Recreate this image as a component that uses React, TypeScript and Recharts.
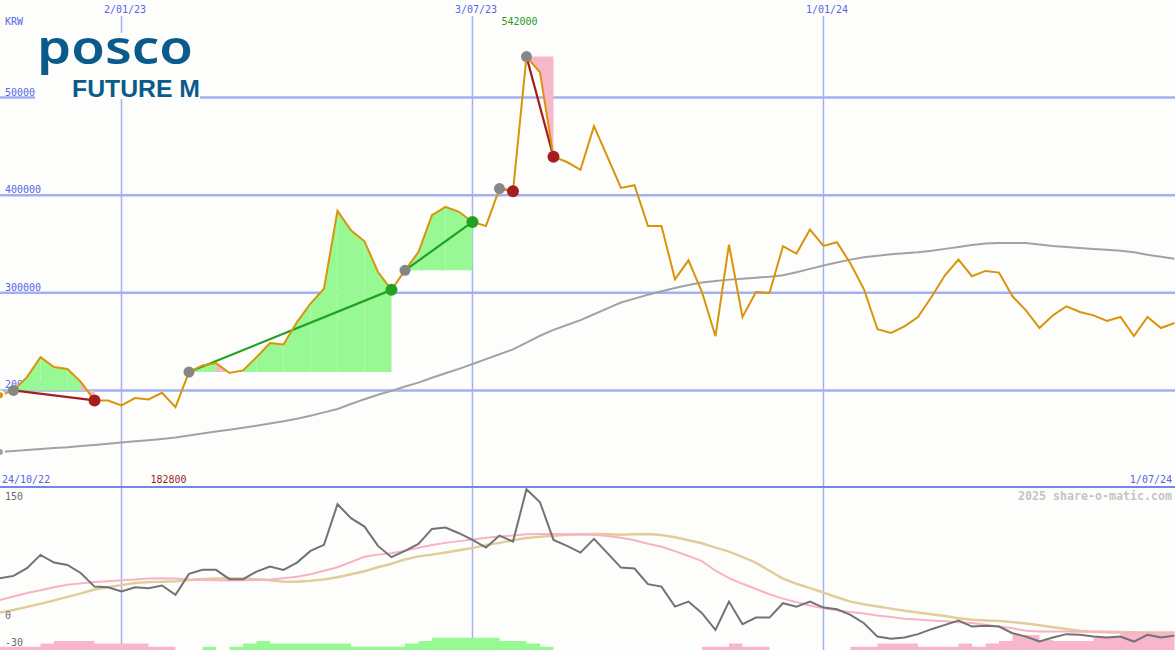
import React from 'react';
import { ComposedChart, Line, Area, XAxis, YAxis, CartesianGrid, ReferenceDot } from 'recharts';

// weekly closes, KRW (index 0 = first plotted week)
const prices = [
  195000, 200000, 213600, 234000, 224000, 222000, 208500, 189700, 189700, 184600,
  192100, 190800, 197600, 182800, 218800, 225600, 228000, 217800, 220500, 234000,
  248500, 247000, 270000, 289000, 304300, 384000, 364000, 352800, 321300, 303000,
  323000, 341800, 379500, 388000, 383000, 372600, 368500, 406800, 404000, 542000,
  525800, 439300, 434000, 426000, 470800, 439300, 407500, 410300, 368500, 368500,
  313800, 333300, 300800, 255400, 349400, 275200, 300800, 299800, 347700, 340200,
  364800, 348000, 351800, 330000, 303600, 262700, 258800, 265600, 275200, 295700,
  318000, 334000, 317000, 322400, 320700, 296400, 282000, 263900, 276900, 286200,
  280300, 276900, 271100, 275200, 255700, 275200, 263900, 269000,
];

// long moving average (grey)
const priceAvg = [
  136800, 137800, 139000, 140000, 141000, 141800, 143000, 144000, 145300, 146500,
  147800, 149000, 150300, 151800, 153800, 155800, 157800, 159700, 161700, 163800,
  166000, 168300, 171000, 174000, 177500, 181000, 186000, 191000, 195500, 199500,
  204000, 208000, 213000, 217500, 222000, 227000, 232000, 237000, 242000, 249000,
  256000, 262000, 267000, 272000, 278000, 284000, 290000, 294000, 298000, 301500,
  305000, 308000, 310500, 312000, 313500, 314500, 315500, 316500, 318000, 321000,
  324500, 328000, 331000, 334000, 336500, 338000, 339500, 340500, 341500, 343000,
  345000, 347000, 349000, 350500, 351000, 351000, 351000, 349500, 348000, 347000,
  346000, 345000, 344000, 343000, 341500, 339000, 337000, 335000,
];

// lower panel
const osc = [
  48.5, 51.1, 59.9, 75.2, 66.4, 63.7, 54.2, 38.8, 38.1, 33.1,
  38.1, 37.0, 40.0, 29.3, 53.4, 58.0, 58.0, 47.3, 47.3, 56.0,
  61.8, 58.0, 66.4, 79.8, 86.7, 133.4, 117.3, 107.7, 85.5, 72.6,
  79.8, 87.8, 105, 106.5, 100.1, 92.4, 83.6, 97.4, 90.5, 150.6,
  135.7, 92.4, 85.5, 77.8, 93.6, 77.2, 60.6, 59.5, 41.6, 38.8,
  15.8, 21.6, 8.3, -10.9, 21.6, -4.4, 3.2, 3.2, 19.7, 15.8,
  21.6, 14.7, 12.8, 6.3, -3.2, -18.6, -21.2, -19.7, -15.8, -10.1,
  -5.2, -0.2, -7.1, -6.3, -7.1, -14.7, -18.6, -24.3, -19.7, -15.8,
  -16.6, -18.6, -19.7, -18.6, -24.3, -16.6, -19.7, -17.5,
];

const oscFast = [
  23.5, 27.5, 31.5, 34.5, 38, 41, 42.5, 44, 45, 46,
  47, 48, 48.5, 48, 47, 46.5, 46, 45.7, 46, 46.3,
  47, 48.5, 50, 53, 57, 61, 67, 73, 75.5, 77,
  80, 83.5, 86.5, 89, 91, 93, 95, 96.2, 97.5, 98.8,
  99.3, 99.2, 99, 98.7, 98.3, 97, 95, 92, 88, 84.5,
  79.5, 74, 68, 57, 48.5, 42, 36, 30, 25, 21,
  17, 14, 11.5, 9.5, 8, 5.5, 3.8, 2, 1, 0,
  -1, -2, -3, -5, -7, -9, -12, -12.9, -12.9, -12.9,
  -13, -13.4, -13.8, -14.3, -14.7, -14.3, -14, -13.5,
];

const oscSlow = [
  9, 12, 15.5, 19, 23, 27, 31, 35.5, 38, 40.5,
  43, 44, 44.3, 45, 46.5, 47.6, 48, 48.5, 48, 47.3,
  46, 44.5, 44.5, 45.5, 47, 49.5, 53, 56.5, 61, 65,
  70, 73.5, 75.5, 78, 80.5, 83, 86.5, 89, 92, 94.5,
  96, 97.2, 98.3, 99, 99.3, 98.8, 98.2, 98.8, 99.3, 98,
  95.5, 92, 88.6, 83.5, 79, 73, 66, 57, 48, 42,
  37, 32, 26.5, 21.5, 18.5, 16, 13.5, 11, 9, 7,
  5, 2.5, 0.7, 0, -0.6, -2, -3.5, -5.5, -8, -10,
  -12, -12.9, -13.1, -13.4, -13.6, -14, -14.3, -14.7,
];

// signed histogram: positive = green, negative = pink
const histogram = [
  -1, -1, -1, -2, -2.7, -2.7, -2.7, -2, -2, -2,
  -2, -1, -1, 0, 0, 1, 0, 1, 2, 2.7,
  2, 2, 2, 2, 2, 2, 1, 1, 1, 1,
  2, 2.7, 3.7, 3.7, 3.7, 3.7, 3.7, 2.7, 2.7, 2,
  1, 0, 0, 0, 0, 0, 0, 0, 0, 0,
  0, 0, -1, -1, -2, -1, -1, 0, 0, 0,
  0, 0, 0, -1, -1, -2, -2, -2, -1, -1,
  -1, -2, -1, -2, -2.7, -4.5, -4.5, -3, -2.7, -2.7,
  -2.7, -3.8, -3.8, -5, -5, -5, -5, -5,
];

const tradeEntries = [1, 14, 30, 37, 39];
const tradeExits = [7, 29, 35, 38, 41];

const dateTicks = [9, 35, 61];
const dateLabels = ['2/01/23', '3/07/23', '1/01/24'];
const startLabel = '24/10/22';
const endLabel = '1/07/24';
const priceTicks = [200000, 300000, 400000, 500000];
const oscTicks = [-30, 0, 150];

const BG = '#fdfefc';
const GRID = '#a3b1f2';
const BLUE = '#5565e6';
const MONO = '"DejaVu Sans Mono", monospace';
const GAIN_FILL = '#98f894';
const LOSS_FILL = '#f8b6ca';
const GAIN_LINE = '#22a022';
const LOSS_LINE = '#a41e1e';
const X_DOMAIN: [number, number] = [0, 87.04];
const PRICE_DOMAIN: [number, number] = [100000, 600000];
const OSC_DOMAIN: [number, number] = [-34, 152];
const MARGIN = { top: 0, right: 0, bottom: 0, left: 0 };

const upperRows: Record<string, any>[] = prices.map((p, i) => ({ i, price: p, avg: priceAvg[i] }));
const fillSegs: { key: string; color: string }[] = [];
const tradeLines: { key: string; color: string }[] = [];

tradeEntries.forEach((a, k) => {
  const b = tradeExits[k];
  const base = prices[a];
  for (let i = a; i < b; i++) {
    const key = 'f' + i;
    upperRows[i][key] = [base, prices[i]];
    upperRows[i + 1][key] = [base, prices[i + 1]];
    fillSegs.push({ key, color: prices[i + 1] >= base ? GAIN_FILL : LOSS_FILL });
  }
  const win = prices[b] > base;
  upperRows[a]['t' + k] = base;
  upperRows[b]['t' + k] = prices[b];
  tradeLines.push({ key: 't' + k, color: win ? GAIN_LINE : LOSS_LINE });
  upperRows[a].entry = base;
  upperRows[b][win ? 'exitWin' : 'exitLoss'] = prices[b];
});

const lowerRows = osc.map((v, i) => ({
  i,
  osc: v,
  fast: oscFast[i],
  slow: oscSlow[i],
  histUp: histogram[i] > 0 ? histogram[i] : 0,
  histDown: histogram[i] < 0 ? -histogram[i] : 0,
}));

const maxVal = Math.max(...prices);
const minVal = Math.min(...prices);
const maxIdx = prices.indexOf(maxVal);
const minIdx = prices.indexOf(minVal);

const marker = (color: string, r: number) => (props: any) => {
  const { cx, cy, index, value } = props;
  if (value == null || cy == null || Number.isNaN(cy)) return <g key={index} />;
  return <circle key={index} cx={cx} cy={cy} r={r} fill={color} />;
};

const DateTick = (props: any) => {
  const { x, payload } = props;
  const label = dateLabels[dateTicks.indexOf(payload.value)];
  return (
    <g>
      <rect x={x - 24} y={0} width={52} height={16} fill={BG} />
      <text x={x + 3.5} y={13} textAnchor="middle" fill={BLUE} fontSize={10} fontFamily={MONO}>{label}</text>
    </g>
  );
};

const PriceTick = (props: any) => (
  <text x={5} y={props.y - 2} fill={BLUE} fontSize={10} fontFamily={MONO}>{props.payload.value}</text>
);

const OscTick = (props: any) => (
  <text x={5} y={Math.max(props.y - 1, 12)} fill="#6a6a6a" fontSize={10} fontFamily={MONO}>{props.payload.value}</text>
);

const layer = (top: number): React.CSSProperties => ({ position: 'absolute', left: 0, top });

const App = () => (
  <div style={{ position: 'fixed', left: 0, top: 0, width: 1175, height: 650, background: BG, overflow: 'hidden' }}>
    {/* price panel: grid and axis labels underneath */}
    <div style={layer(0)}>
      <ComposedChart width={1175} height={488} data={upperRows} margin={MARGIN}>
        <CartesianGrid vertical={false} horizontalValues={priceTicks} stroke={GRID} strokeWidth={2.5} />
        <CartesianGrid horizontal={false} verticalValues={dateTicks} stroke={GRID} strokeWidth={1.5} />
        <XAxis dataKey="i" type="number" domain={X_DOMAIN} ticks={dateTicks} orientation="top" mirror
          axisLine={false} tickLine={false} tick={DateTick} interval={0} allowDataOverflow />
        <YAxis type="number" domain={PRICE_DOMAIN} ticks={priceTicks} mirror
          axisLine={false} tickLine={false} tick={PriceTick} interval={0} allowDataOverflow />
      </ComposedChart>
    </div>

    {/* price panel: series on top */}
    <div style={layer(0)}>
      <ComposedChart width={1175} height={488} data={upperRows} margin={MARGIN}>
        <XAxis dataKey="i" type="number" domain={X_DOMAIN} hide allowDataOverflow />
        <YAxis type="number" domain={PRICE_DOMAIN} hide allowDataOverflow />
        {fillSegs.map((s) => (
          <Area key={s.key} dataKey={s.key} type="linear" fill={s.color} fillOpacity={1} stroke="none"
            isAnimationActive={false} dot={false} activeDot={false} />
        ))}
        <Line dataKey="avg" type="linear" stroke="#a2a2a2" strokeWidth={2} dot={false} isAnimationActive={false} />
        {tradeLines.map((t) => (
          <Line key={t.key} dataKey={t.key} type="linear" stroke={t.color} strokeWidth={2.2} connectNulls
            dot={false} activeDot={false} isAnimationActive={false} />
        ))}
        <Line dataKey="price" type="linear" stroke="#d9940a" strokeWidth={2} dot={false} isAnimationActive={false} />
        <Line dataKey="entry" stroke="none" dot={marker('#868686', 5.5)} activeDot={false} isAnimationActive={false} />
        <Line dataKey="exitWin" stroke="none" dot={marker(GAIN_LINE, 6)} activeDot={false} isAnimationActive={false} />
        <Line dataKey="exitLoss" stroke="none" dot={marker(LOSS_LINE, 6)} activeDot={false} isAnimationActive={false} />
        <ReferenceDot x={maxIdx} y={maxVal} r={0} stroke="none"
          label={(p: any) => (
            <text x={p.viewBox.x - 7} y={25} textAnchor="middle" fill="#1f9a1f" fontSize={10} fontFamily={MONO}>{maxVal}</text>
          )} />
        <ReferenceDot x={minIdx} y={minVal} r={0} stroke="none"
          label={(p: any) => (
            <text x={p.viewBox.x - 7} y={483} textAnchor="middle" fill="#9c1e1e" fontSize={10} fontFamily={MONO}>{minVal}</text>
          )} />
      </ComposedChart>
    </div>

    {/* oscillator panel */}
    <div style={layer(488)}>
      <ComposedChart width={1175} height={162} data={lowerRows} margin={MARGIN}>
        <CartesianGrid vertical={false} horizontalValues={[0]} stroke={GRID} strokeWidth={2} />
        <CartesianGrid horizontal={false} verticalValues={dateTicks} stroke={GRID} strokeWidth={1.5} />
        <XAxis dataKey="i" type="number" domain={X_DOMAIN} hide allowDataOverflow />
        <YAxis yAxisId="o" type="number" domain={OSC_DOMAIN} ticks={oscTicks} mirror
          axisLine={false} tickLine={false} tick={OscTick} interval={0} allowDataOverflow />
        <YAxis yAxisId="h" type="number" domain={[0, 49]} hide />
        <Area yAxisId="h" dataKey="histUp" type="stepAfter" fill={GAIN_FILL} fillOpacity={1} stroke="none" isAnimationActive={false} />
        <Area yAxisId="h" dataKey="histDown" type="stepAfter" fill={LOSS_FILL} fillOpacity={1} stroke="none" isAnimationActive={false} />
        <Line yAxisId="o" dataKey="slow" type="linear" stroke="#e2cc9c" strokeWidth={2.5} dot={false} isAnimationActive={false} />
        <Line yAxisId="o" dataKey="fast" type="linear" stroke="#f8b2c6" strokeWidth={2} dot={false} isAnimationActive={false} />
        <Line yAxisId="o" dataKey="osc" type="linear" stroke="#727272" strokeWidth={2} dot={false} isAnimationActive={false} />
      </ComposedChart>
    </div>

    <svg width={1175} height={650} style={{ position: 'absolute', left: 0, top: 0, pointerEvents: 'none' }}>
      <rect x={0} y={486} width={1175} height={2} fill="#7585ea" />
      <text x={5} y={25} fill={BLUE} fontSize={10} fontFamily={MONO}>KRW</text>
      <text x={2} y={483} fill={BLUE} fontSize={10} fontFamily={MONO}>{startLabel}</text>
      <text x={1172} y={483} textAnchor="end" fill={BLUE} fontSize={10} fontFamily={MONO}>{endLabel}</text>
      <text x={1018} y={500} fill="#c4c4c4" fontSize={11.6} fontWeight="bold" fontFamily={MONO}
        textLength={154} lengthAdjust="spacingAndGlyphs">2025 share-o-matic.com</text>
      <rect x={35} y={33} width={165} height={66} fill={BG} />
      <text x={37} y={64} fill="#0b5a8c" fontSize={47} fontWeight={600} fontFamily='"Noto Sans", sans-serif'
        textLength={156} lengthAdjust="spacingAndGlyphs">posco</text>
      <text x={72} y={97} fill="#0b5a8c" fontSize={24} fontWeight="bold" fontFamily='"Liberation Sans", Arial, sans-serif'
        textLength={128} lengthAdjust="spacingAndGlyphs">FUTURE M</text>
    </svg>
  </div>
);

export default App;
